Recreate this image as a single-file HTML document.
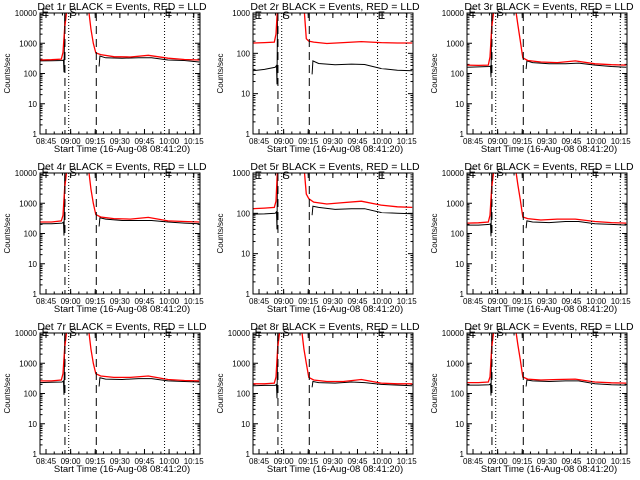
<!DOCTYPE html>
<html><head><meta charset="utf-8"><style>
html,body{margin:0;padding:0;background:#fff;}
svg{display:block;font-family:"Liberation Sans",sans-serif;}
</style></head><body>
<svg id="chart" width="640" height="480" viewBox="0 0 640 480" xmlns="http://www.w3.org/2000/svg">
<rect x="0" y="0" width="640" height="480" fill="#fff"/>
</svg>
<script>
// minutes since 08:41:20
const tickLabels = ["08:45","09:00","09:15","09:30","09:45","10:00","10:15"];
const tickTimes = [3.667,18.667,33.667,48.667,63.667,78.667,93.667];
const tPre = [0,7,13.5,14.3,14.6,15.2];
const tBlackPost = [36,36.5,40,50,60,68,78,88,97];
const tRedPre = [0,7,13,14,15,16.5];
const tRedPost = [29.5,31,32.5,34,37,45,55,66,78,88,97];
const dashedTimes = [15.2,34.3];
const dottedTimes = [17.5,75.9,93.4];
const markerLabels = ["E","S","E"];
const markerTimes = [1,18,76];
const titles = ["Det 1r","Det 2r","Det 3r","Det 4r","Det 5r","Det 6r","Det 7r","Det 8r","Det 9r"];
const decades = [4,3,4,4,3,4,4,4,4];
const blackPre = [
 [260,265,270,280,110,20000],[37,40,45,50,17,20000],[160,165,170,175,75,20000],
 [210,210,220,240,85,20000],[95,97,100,110,40,20000],[190,190,200,210,80,20000],
 [230,235,240,260,90,20000],[180,185,185,200,70,20000],[190,190,195,210,85,20000]];
const blackPost = [
 [170,380,330,320,330,330,280,270,240],[30,65,56,52,54,53,42,38,37],[140,260,230,210,210,220,190,170,160],
 [170,330,300,270,270,270,240,220,210],[90,150,140,125,130,130,105,100,98],[150,260,240,230,250,250,210,200,190],
 [170,330,300,290,310,310,260,250,240],[160,250,230,220,240,230,200,190,180],[170,280,260,250,260,260,210,195,190]];
const redPre = [
 [280,285,300,500,3000,15000],[180,185,190,300,1500,5000],[190,185,190,350,3000,15000],
 [240,240,260,400,3000,15000],[130,135,140,200,1500,5000],[220,225,240,400,3000,15000],
 [260,260,280,450,3000,15000],[210,210,220,350,3000,15000],[230,230,240,350,3000,15000]];
const redPost = [
 [15000,3000,1000,480,420,360,350,400,320,290,280],[5000,1500,230,200,190,175,185,195,185,180,180],
 [15000,4000,1200,330,270,240,230,260,210,195,190],[15000,3000,1000,420,350,310,300,340,260,250,240],
 [5000,1500,300,230,190,170,185,200,160,145,140],[15000,4000,1300,350,310,280,300,300,250,230,220],
 [15000,3000,1000,450,380,340,340,380,290,270,260],[15000,3000,1000,340,280,250,250,290,220,210,210],
 [15000,4000,1300,350,300,280,290,300,240,225,220]];

const NS="http://www.w3.org/2000/svg";
const svg=document.getElementById('chart');
const colLeft=[40,253,467], rowTop=[13,173,333], W=160, H=121, TMAX=97.5;
function mk(tag,attrs,parent){const e=document.createElementNS(NS,tag);for(const k in attrs)e.setAttribute(k,attrs[k]);(parent||svg).appendChild(e);return e;}

for(let p=0;p<9;p++){
  const L=colLeft[p%3], T=rowTop[Math.floor(p/3)], dec=decades[p];
  const xs=t=>L+t*W/TMAX;
  const ys=v=>T+H-(Math.log10(v)/dec)*H;
  const g=mk('g',{});
  
  
  const cid='clip'+p;
  const cp=mk('clipPath',{id:cid},g); mk('rect',{x:L,y:T,width:W,height:H},cp);
  const ti=mk('text',{x:L+82,y:T-3,'text-anchor':'middle','font-size':'10.5'},g);
  ti.textContent=titles[p]+" BLACK = Events, RED = LLD";
  
  
  const yl=mk('text',{x:0,y:0,'text-anchor':'middle','font-size':'8',transform:`translate(${L-30},${T+H/2}) rotate(-90)`},g);
  yl.textContent="Counts/sec";
  
  
  const xt=mk('text',{x:L+82,y:T+H+18,'text-anchor':'middle','font-size':'9.5'},g);
  xt.textContent="Start Time (16-Aug-08 08:41:20)";
  
  
  for(let d=0;d<=dec;d++){
    const y=ys(Math.pow(10,d));
    mk('line',{x1:L,x2:L+5,y1:y,y2:y,stroke:'#000'},g);
    mk('line',{x1:L+W-5,x2:L+W,y1:y,y2:y,stroke:'#000'},g);
    const lb=mk('text',{x:L-3,y:y+3,'text-anchor':'end','font-size':'8'},g);
    lb.textContent=String(Math.pow(10,d));
    
    
    if(d<dec)for(let m=2;m<=9;m++){const ym=ys(m*Math.pow(10,d));
      mk('line',{x1:L,x2:L+2.5,y1:ym,y2:ym,stroke:'#000'},g);
      mk('line',{x1:L+W-2.5,x2:L+W,y1:ym,y2:ym,stroke:'#000'},g);}
  }
  for(let i=0;i<tickTimes.length;i++){
    const x=xs(tickTimes[i]);
    mk('line',{x1:x,x2:x,y1:T+H,y2:T+H-5,stroke:'#000'},g);
    mk('line',{x1:x,x2:x,y1:T,y2:T+5,stroke:'#000'},g);
    const lb=mk('text',{x:x,y:T+H+10,'text-anchor':'middle','font-size':'8'},g);
    lb.textContent=tickLabels[i];
    
    
  }
  for(let t=-1.333;t<TMAX;t+=5){const x=xs(t);if(x<L)continue;
    mk('line',{x1:x,x2:x,y1:T+H,y2:T+H-2.5,stroke:'#000'},g);
    mk('line',{x1:x,x2:x,y1:T,y2:T+2.5,stroke:'#000'},g);}
  const path=(ts,vs)=>ts.map((t,i)=>(i?'L':'M')+xs(t).toFixed(1)+','+ys(vs[i]).toFixed(1)).join(' ');
  const cg=mk('g',{'clip-path':`url(#${cid})`},g);
  const s1=mk('path',{d:path(tPre,blackPre[p])+' '+path(tBlackPost,blackPost[p]),fill:'none',stroke:'#000','stroke-width':'1'},cg);
  
  
  const s2=mk('path',{d:path(tRedPre,redPre[p])+' '+path(tRedPost,redPost[p]),fill:'none',stroke:'#ff0000','stroke-width':'1.3'},cg);
  
  
  dashedTimes.forEach(t=>{const l=mk('line',{x1:xs(t),x2:xs(t),y1:T,y2:T+H,stroke:'#000','stroke-dasharray':'8,5'},g);
    
    });
  dottedTimes.forEach(t=>{const l=mk('line',{x1:xs(t),x2:xs(t),y1:T,y2:T+H,stroke:'#000','stroke-dasharray':'1,2'},g);
    
    });
  markerLabels.forEach((s,i)=>{const m=mk('text',{x:xs(markerTimes[i]),y:T+(dec===3?6:3),'font-size':'11'},g);
    m.textContent=s;
    
    });
  const fr=mk('rect',{x:L,y:T,width:W,height:H,fill:'none',stroke:'#000'},g);
  
  
}
</script>
</body></html>
